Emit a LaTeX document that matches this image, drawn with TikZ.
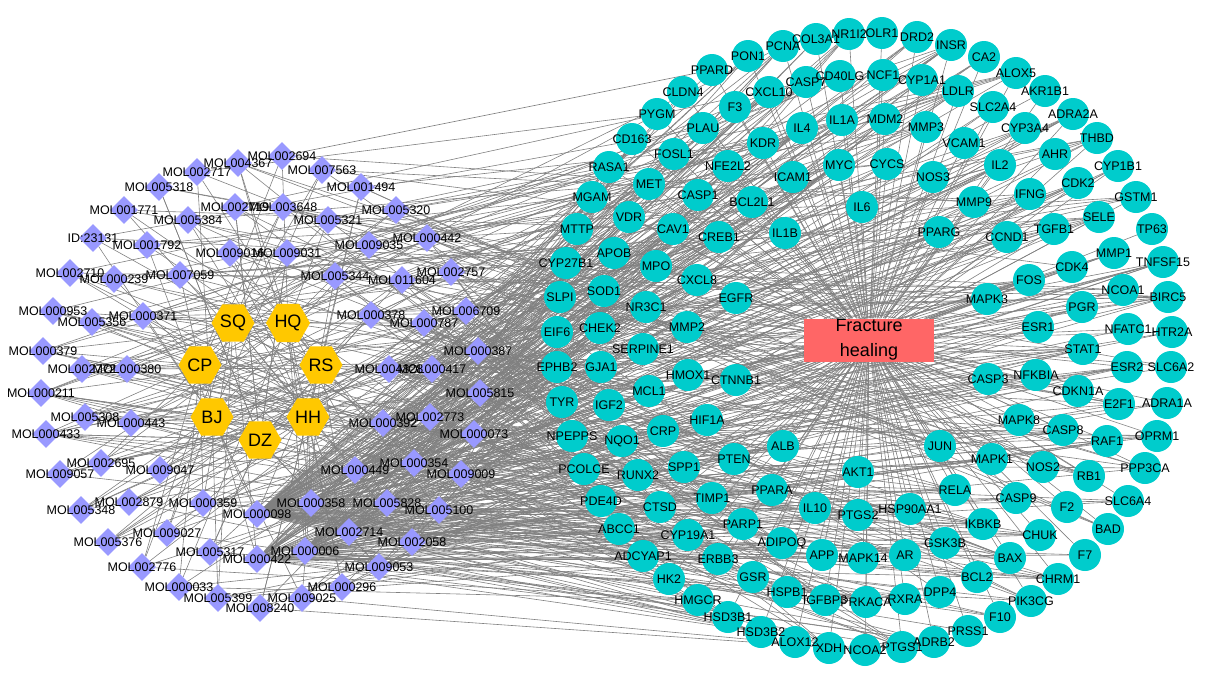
\documentclass[tikz,border=0pt]{standalone}
\usepackage{fontspec}
\setmainfont{Liberation Sans}
\usetikzlibrary{shapes.geometric}
\definecolor{molfill}{RGB}{153,153,255}
\definecolor{herbfill}{RGB}{255,200,0}
\definecolor{genefill}{RGB}{0,204,204}
\definecolor{fhfill}{RGB}{255,102,102}
\definecolor{edgegray}{RGB}{128,128,128}
\pgfdeclarelayer{edges}
\pgfdeclarelayer{labels}
\pgfsetlayers{edges,main,labels}

\def\herblist{SQ/233/323, HQ/288/323, CP/200/365, RS/321/365, BJ/212/417, HH/308/417, DZ/260/440}

\def\mollist{MOL004367/238/163/3, MOL002694/282/156/2, MOL002717/197/172/2, MOL007563/322/170/3,
  MOL001494/361/187/3, MOL005318/159/187/2, MOL005320/396/210/4, MOL001771/124/210/2,
  MOL000442/427/238/8, ID:23131/93/238/2, MOL002757/451/272/6, MOL002710/70/273/3,
  MOL006709/466/311/8, MOL000953/53/311/3, MOL000387/478/351/12, MOL000379/43/351/5,
  MOL005815/480/393/8, MOL000211/41/393/8, MOL000073/474/434/8, MOL000433/46/434/8,
  MOL009009/461/474/6, MOL009057/60/474/3, MOL005100/439/510/10, MOL005348/81/510/3,
  MOL002058/412/542/10, MOL005376/108/542/3, MOL009053/379/567/6, MOL002776/142/567/3,
  MOL000296/342/587/4, MOL000033/179/587/3, MOL009025/302/598/3, MOL005399/218/598/3,
  MOL008240/260/608/3,
  MOL002719/235/207/3, MOL003648/283/207/3, MOL005384/188/220/3, MOL005321/328/220/3,
  MOL001792/147/245/3, MOL009035/369/245/4, MOL009016/230/253/3, MOL009031/287/253/3,
  MOL007059/180/275/3, MOL005344/335/276/6, MOL000239/114/279/4, MOL011604/402/280/6,
  MOL000371/143/316/8, MOL005356/92/322/3, MOL000378/371/315/12, MOL000787/424/323/8,
  MOL002772/82/369/3, MOL000380/127/369/8, MOL004328/389/369/20, MOL000417/432/369/18,
  MOL005308/85/417/3, MOL000443/131/423/6, MOL000392/383/423/20, MOL002773/430/417/12,
  MOL002695/101/463/3, MOL009047/160/470/4, MOL000449/355/470/15, MOL000354/414/463/25,
  MOL002879/129/502/3, MOL000359/203/503/6, MOL000358/311/503/20, MOL005828/387/503/15,
  MOL000098/257/514/95, MOL009027/167/533/4, MOL002714/349/532/20, MOL005317/210/552/4,
  MOL000422/257/559/45, MOL000006/305/551/50}

\def\genelist{PPARD/712/70, PON1/748/56, PCNA/783/46, COL3A1/816/39, NR1I2/849/34,
  OLR1/882/33, DRD2/917/37, INSR/951/45, CA2/984/57, ALOX5/1016/73, AKR1B1/1045/91,
  ADRA2A/1073/114, THBD/1097/138, CYP1B1/1118/166, GSTM1/1136/197, TP63/1152/229,
  TNFSF15/1163/262, BIRC5/1168/297, HTR2A/1172/332, SLC6A2/1171/367, ADRA1A/1167/403,
  OPRM1/1157/436, PPP3CA/1145/468, SLC6A4/1128/501, BAD/1108/529, F7/1085/555,
  CHRM1/1058/579, PIK3CG/1031/601, F10/1000/617, PRSS1/968/631, ADRB2/934/642,
  PTGS1/902/647, NCOA2/865/650, XDH/829/648, ALOX12/795/642, HSD3B2/761/632,
  HSD3B1/728/617, HMGCR/698/600, HK2/669/579, ADCYAP1/643/556, ABCC1/619/529,
  PDE4D/601/501, PCOLCE/584/469, NPEPPS/572/436, TYR/562/402, EPHB2/557/367,
  EIF6/557/332, SLPI/560/297, CYP27B1/566/263, MTTP/577/229, MGAM/592/197,
  RASA1/609/167, CD163/632/139, PYGM/657/114, CLDN4/683/92,
  CXCL10/769/92, CASP7/806/82, CD40LG/840/76, NCF1/883/75, CYP1A1/922/80, LDLR/958/91,
  SLC2A4/993/107, CYP3A4/1025/128, AHR/1055/154, CDK2/1078/183, SELE/1099/217,
  MMP1/1114/253, NCOA1/1123/290, NFATC1/1128/329, ESR2/1127/367, E2F1/1119/404,
  RAF1/1107/441, RB1/1089/476, F2/1067/507, CHUK/1040/535, BAX/1010/558, BCL2/977/577,
  DPP4/940/592, RXRA/905/599, PRKACA/866/602, IGFBP3/825/600, HSPB1/787/592,
  GSR/753/577, ERBB3/718/559, CYP19A1/688/535, CTSD/660/507, RUNX2/638/475,
  NQO1/622/441, IGF2/609/405, GJA1/601/367, CHEK2/600/328, SOD1/604/291, APOB/614/253,
  VDR/629/217, MET/649/184, FOSL1/674/154, PLAU/703/128, F3/735/107,
  IL4/802/128, IL1A/842/120, MDM2/885/119, MMP3/926/127, VCAM1/964/143, IL2/1000/165,
  IFNG/1030/194, TGFB1/1054/229, CDK4/1072/267, PGR/1082/307, STAT1/1083/349,
  CDKN1A/1078/391, CASP8/1063/430, NOS2/1043/467, CASP9/1016/498, IKBKB/983/524,
  GSK3B/945/543, AR/905/555, MAPK14/863/558, APP/822/555, ADIPOQ/782/543,
  PARP1/743/524, TIMP1/712/498, SPP1/684/467, CRP/663/431, MCL1/649/391,
  SERPINE1/643/349, NR3C1/646/307, MPO/656/266, CAV1/673/229, CASP1/698/195,
  NFE2L2/728/166, KDR/763/143,
  ICAM1/793/177, MYC/839/165, CYCS/887/164, NOS3/933/177, MMP9/974/202, CCND1/1007/237,
  FOS/1029/280, ESR1/1038/327, NFKBIA/1036/375, MAPK8/1019/420, MAPK1/992/459,
  RELA/955/490, HSP90AA1/910/509, PTGS2/858/515, IL10/815/508, PPARA/772/490,
  PTEN/734/459, HIF1A/707/420, HMOX1/688/375, MMP2/687/327, CXCL8/697/280,
  CREB1/719/237, BCL2L1/752/202,
  IL1B/785/233, IL6/862/207, PPARG/939/232, MAPK3/987/299, CASP3/988/379,
  JUN/940/446, AKT1/858/472, ALB/783/446, CTNNB1/736/380, EGFR/736/298}

\begin{document}
\begin{tikzpicture}[x=1pt, y=-1pt,
    mol/.style={diamond, fill=molfill, minimum width=28pt, minimum height=28pt, inner sep=0pt},
    gene/.style={circle, fill=genefill, minimum size=32pt, inner sep=0pt},
    herb/.style={regular polygon, regular polygon sides=6, fill=herbfill, minimum size=43pt,
                 inner sep=0pt, font=\fontsize{18}{20}\selectfont},
    disease/.style={rectangle, fill=fhfill, minimum width=130pt, minimum height=43pt,
                    inner sep=0pt, align=center, font=\fontsize{18}{25}\selectfont},
    tag/.style={inner sep=0pt, font=\fontsize{12.5}{14}\selectfont},
    link/.style={draw=edgegray, line width=0.6pt}
]
\useasboundingbox (0,0) rectangle (1213,683);
% herbs
\foreach \nm/\x/\y [count=\i] in \herblist
  \node[herb] (h\i) at (\x,\y) {\nm};
% compounds
\foreach \nm/\x/\y/\k [count=\i] in \mollist {
  \node[mol] (d\i) at (\x,\y) {};
  \begin{pgfonlayer}{labels}
    \node[tag] (ld\i) at (d\i) {\nm};
  \end{pgfonlayer}
}
% targets
\foreach \nm/\x/\y [count=\i] in \genelist {
  \node[gene] (t\i) at (\x,\y) {};
  \begin{pgfonlayer}{labels}
    \node[tag] (lt\i) at (t\i) {\nm};
  \end{pgfonlayer}
  \xdef\ngenes{\i}
}
\node[disease] (fh) at (869,340) {Fracture\\healing};
% connectors
\begin{pgfonlayer}{edges}
\foreach \nm/\x/\y/\k [count=\i] in \mollist {
  \pgfmathtruncatemacro\ha{mod(\i,7)+1}
  \pgfmathtruncatemacro\hb{mod(3*\i+2,7)+1}
  \draw[link] (d\i) -- (h\ha);
  \draw[link] (d\i) -- (h\hb);
  \foreach \m in {1,...,\k} {
    \pgfmathtruncatemacro\j{mod(\i*53+\m*29,\ngenes)+1}
    \draw[link] (d\i) -- (t\j);
  }
}
\foreach \j in {1,...,\ngenes}
  \draw[link] (t\j) -- (fh);
\end{pgfonlayer}
\end{tikzpicture}
\end{document}
